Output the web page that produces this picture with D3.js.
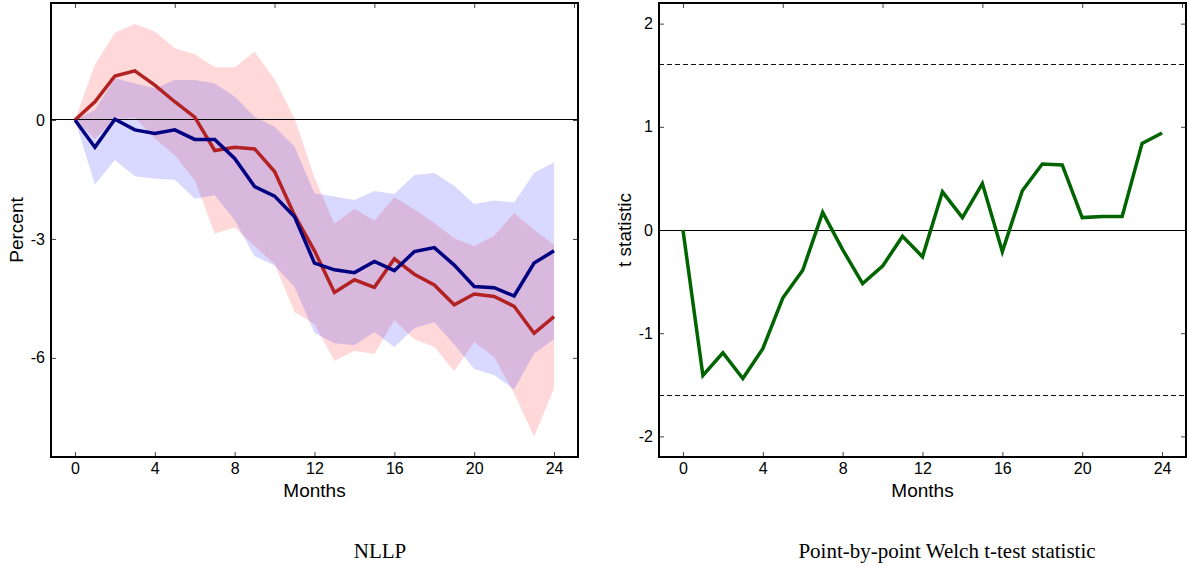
<!DOCTYPE html>
<html>
<head>
<meta charset="utf-8">
<script src="https://cdnjs.cloudflare.com/ajax/libs/d3/7.8.5/d3.min.js"></script>
<style>
  body { margin: 0; background: #fff; }
  svg { display: block; }
</style>
</head>
<body>
<div id="chart"></div>
<script>
// months after the shock
var months = [0,1,2,3,4,5,6,7,8,9,10,11,12,13,14,15,16,17,18,19,20,21,22,23,24];

// left panel (NLLP), percent
var redLine  = [0,0.46,1.11,1.24,0.88,0.46,0.07,-0.77,-0.69,-0.73,-1.3,-2.4,-3.3,-4.35,-4.03,-4.22,-3.5,-3.89,-4.16,-4.66,-4.39,-4.45,-4.7,-5.38,-4.96];
var redUpper = [0,1.4,2.2,2.42,2.23,1.81,1.66,1.33,1.33,1.72,1.03,0.04,-1.45,-2.62,-2.24,-2.54,-1.95,-2.25,-2.6,-2.98,-3.18,-2.92,-2.35,-2.77,-3.15];
var redLower = [0,-0.48,0.02,0.06,-0.47,-0.89,-1.52,-2.87,-2.71,-3.18,-3.63,-4.84,-5.15,-6.08,-5.82,-5.9,-5.05,-5.53,-5.72,-6.34,-5.6,-5.98,-6.9,-7.99,-6.77];
var blueLine  = [0,-0.69,0.02,-0.25,-0.34,-0.25,-0.49,-0.49,-0.97,-1.68,-1.92,-2.44,-3.61,-3.78,-3.85,-3.57,-3.8,-3.32,-3.22,-3.66,-4.2,-4.23,-4.44,-3.61,-3.3];
var blueUpper = [0,0.25,1.05,0.92,0.8,1.01,1.01,0.92,0.59,0.08,-0.17,-0.67,-1.85,-1.93,-2.02,-1.79,-1.87,-1.39,-1.34,-1.66,-2.12,-2.03,-2.08,-1.33,-1.07];
var blueLower = [0,-1.63,-1.01,-1.42,-1.48,-1.51,-1.99,-1.9,-2.53,-3.44,-3.67,-4.21,-5.37,-5.63,-5.68,-5.35,-5.73,-5.25,-5.1,-5.66,-6.28,-6.43,-6.8,-5.89,-5.53];

// right panel, Welch t statistic
var tStat = [0,-1.41,-1.19,-1.44,-1.15,-0.66,-0.39,0.17,-0.19,-0.52,-0.35,-0.06,-0.26,0.37,0.12,0.45,-0.21,0.38,0.64,0.63,0.12,0.13,0.13,0.84,0.94];
var critValues = [1.6, -1.6];

// ticks
var xTicksBottom = [0,4,8,12,16,20,24];
var xTicksTop = [0,5,10,15,20,25];
var yTicksLeft = [-6,-3,0];
var yTicksRight = [-2,-1,0,1,2];

var W = 1187, H = 566;
var svg = d3.select("#chart").append("svg")
    .attr("width", W).attr("height", H);

var sans = "'Liberation Sans', Arial, Helvetica, sans-serif";
var serif = "'Liberation Serif', 'Times New Roman', serif";
var plain = function(d) { return String(d); };   // "-3", not the unicode minus

// draws zero line, ticks and labels; returns the scales
function makePanel(box, yDomain, yTicks, yLabel, yLabelX) {
    var x = d3.scaleLinear().domain([-1.2, 25.2]).range([box.x0, box.x1]);
    var y = d3.scaleLinear().domain(yDomain).range([box.y1, box.y0]);
    var g = svg.append("g");

    var axes = [
        {a: d3.axisBottom(x).tickValues(xTicksBottom).tickFormat(plain), t: "translate(0," + box.y1 + ")"},
        {a: d3.axisTop(x).tickValues(xTicksTop).tickFormat(""), t: "translate(0," + box.y0 + ")"},
        {a: d3.axisLeft(y).tickValues(yTicks).tickFormat(plain), t: "translate(" + box.x0 + ",0)"},
        {a: d3.axisRight(y).tickValues(yTicks).tickFormat(""), t: "translate(" + box.x1 + ",0)"}
    ];
    axes.forEach(function(d) {
        var ax = g.append("g").attr("transform", d.t)
            .call(d.a.tickSizeInner(-5).tickSizeOuter(0).tickPadding(6));
        ax.select(".domain").remove();
        ax.selectAll(".tick line").attr("stroke", "#444").attr("stroke-width", 1);
        ax.selectAll(".tick text")
            .attr("font-family", sans).attr("font-size", "16px").attr("fill", "#000");
    });

    // zero line
    g.append("line")
        .attr("x1", box.x0).attr("x2", box.x1)
        .attr("y1", y(0)).attr("y2", y(0))
        .attr("stroke", "#000").attr("stroke-width", 1)
        .attr("shape-rendering", "crispEdges");

    // axis titles
    g.append("text")
        .attr("x", (box.x0 + box.x1) / 2).attr("y", 497)
        .attr("text-anchor", "middle")
        .attr("font-family", sans).attr("font-size", "19px")
        .text("Months");
    g.append("text")
        .attr("transform", "translate(" + yLabelX + "," + ((box.y0 + box.y1) / 2) + ") rotate(-90)")
        .attr("text-anchor", "middle")
        .attr("font-family", sans).attr("font-size", "19px")
        .text(yLabel);

    return {x: x, y: y, g: g, box: box};
}

function frame(p) {
    p.g.append("rect")
        .attr("x", p.box.x0).attr("y", p.box.y0)
        .attr("width", p.box.x1 - p.box.x0).attr("height", p.box.y1 - p.box.y0)
        .attr("fill", "none").attr("stroke", "#000").attr("stroke-width", 2);
}

// ---------- left panel
var L = makePanel({x0: 51, x1: 578, y0: 3, y1: 457}, [-8.5, 2.95], yTicksLeft, "Percent", 23);

function band(p, lower, upper, color) {
    var area = d3.area()
        .x(function(d, i) { return p.x(months[i]); })
        .y0(function(d, i) { return p.y(lower[i]); })
        .y1(function(d, i) { return p.y(upper[i]); });
    p.g.insert("path", ":first-child")
        .datum(months)
        .attr("d", area)
        .attr("fill", color).attr("fill-opacity", 0.15).attr("stroke", "none");
}
function line(p, vals, color) {
    var ln = d3.line()
        .x(function(d, i) { return p.x(months[i]); })
        .y(function(d) { return p.y(d); });
    p.g.append("path")
        .datum(vals)
        .attr("d", ln)
        .attr("fill", "none").attr("stroke", color)
        .attr("stroke-width", 3.5).attr("stroke-linejoin", "miter");
}

band(L, blueLower, blueUpper, "#0000ff");
band(L, redLower, redUpper, "#ff0000");
line(L, redLine, "#b22222");
line(L, blueLine, "#000080");
frame(L);

// ---------- right panel
var R = makePanel({x0: 659, x1: 1186, y0: 3, y1: 457}, [-2.2, 2.2], yTicksRight, "t statistic", 631);

R.g.selectAll(".crit")
    .data(critValues)
    .enter().append("line")
    .attr("class", "crit")
    .attr("x1", R.box.x0).attr("x2", R.box.x1)
    .attr("y1", function(d) { return R.y(d); })
    .attr("y2", function(d) { return R.y(d); })
    .attr("stroke", "#111").attr("stroke-width", 1)
    .attr("stroke-dasharray", "5,3")
    .attr("shape-rendering", "crispEdges");

line(R, tStat, "#006400");
frame(R);

// captions under the panels
svg.append("text")
    .attr("x", 380).attr("y", 558)
    .attr("text-anchor", "middle")
    .attr("font-family", serif).attr("font-size", "21px")
    .text("NLLP");
svg.append("text")
    .attr("x", 947).attr("y", 558)
    .attr("text-anchor", "middle")
    .attr("font-family", serif).attr("font-size", "21px")
    .text("Point-by-point Welch t-test statistic");
</script>
</body>
</html>
